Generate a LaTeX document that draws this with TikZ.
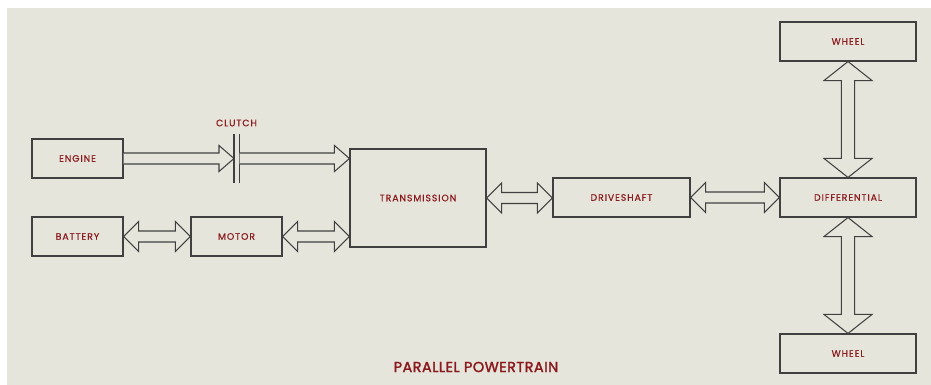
\documentclass[tikz,border=0pt]{standalone}
\usepackage{fontspec}
\setmainfont{Poppins}
\newfontfamily\lblfont[LetterSpace=10, FakeBold=0.6]{Poppins}
\newfontfamily\ttlfont[LetterSpace=3, FakeBold=2]{Poppins}
\usetikzlibrary{calc}
\definecolor{bg}{HTML}{E6E5DB}
\definecolor{txt}{HTML}{8B1A1E}
\definecolor{ln}{HTML}{404040}
\tikzset{
  box/.style={draw=ln, line width=1.1pt, minimum width=91pt, minimum height=39pt, inner sep=0pt,
    font=\lblfont\fontsize{9.3}{11}\selectfont, text=txt},
  fat/.style={draw=ln, line width=1.05pt, line join=miter, fill=bg},
  plate/.style={draw=ln, line width=1.1pt},
}
\newcommand\dblH[2]{%
  \draw[fat] let \p1=(#1.east), \p2=(#2.west) in
    (\x1,\y1) -- (\x1+15pt,\y1+15pt) -- (\x1+15pt,\y1+5.5pt) -- (\x2-15pt,\y1+5.5pt) -- (\x2-15pt,\y1+15pt)
    -- (\x2,\y1) -- (\x2-15pt,\y1-15pt) -- (\x2-15pt,\y1-5.5pt) -- (\x1+15pt,\y1-5.5pt) -- (\x1+15pt,\y1-15pt) -- cycle;}
\newcommand\dblV[2]{%
  \draw[fat] let \p1=(#1.south), \p2=(#2.north) in
    (\x1,\y1) -- (\x1+24pt,\y1-19pt) -- (\x1+6.7pt,\y1-19pt) -- (\x1+6.7pt,\y2+19pt) -- (\x1+24pt,\y2+19pt)
    -- (\x1,\y2) -- (\x1-24pt,\y2+19pt) -- (\x1-6.7pt,\y2+19pt) -- (\x1-6.7pt,\y1-19pt) -- (\x1-24pt,\y1-19pt) -- cycle;}
\newcommand\sglH[2]{%
  \draw[fat] let \p1=(#1), \p2=(#2) in
    (\x1,\y1+5.5pt) -- (\x2-15pt,\y1+5.5pt) -- (\x2-15pt,\y1+13pt) -- (\x2,\y1) -- (\x2-15pt,\y1-13pt)
    -- (\x2-15pt,\y1-5.5pt) -- (\x1,\y1-5.5pt);}
\begin{document}
\begin{tikzpicture}[x=1pt,y=-1pt]
\useasboundingbox (0,0) rectangle (931,385);
\fill[white] (0,0) rectangle (931,385);
\fill[bg] (7,8) rectangle (931,385);
% boxes
\node[box] (engine) at (77.5,158.5) {ENGINE};
\node[box] (battery) at (77.5,236.5) {BATTERY};
\node[box] (motor) at (236.5,236.5) {MOTOR};
\node[box, minimum width=136pt, minimum height=98pt] (trans) at (418,198) {TRANSMISSION};
\node[box, minimum width=137pt] (drive) at (621.5,197.5) {DRIVESHAFT};
\node[box, minimum width=136pt] (diff) at (848,197.5) {DIFFERENTIAL};
\node[box, minimum width=136pt] (wheelt) at (848,41.5) {WHEEL};
\node[box, minimum width=136pt] (wheelb) at (848,353.5) {WHEEL};
% clutch
\coordinate (c1) at (234,158.5);
\coordinate (c2) at (239.5,158.5);
\draw[plate] (234,134) -- (234,183);
\draw[plate] (239.5,134) -- (239.5,183);
\node[font=\lblfont\fontsize{9.3}{11}\selectfont, text=txt] (clutchlbl) at (236.5,123) {CLUTCH};
\sglH{engine.east}{c1}
\draw[fat] let \p1=(c2), \p2=(trans.west) in
    (\x1,\y1+5.5pt) -- (\x2-15pt,\y1+5.5pt) -- (\x2-15pt,\y1+13pt) -- (\x2,\y1) -- (\x2-15pt,\y1-13pt)
    -- (\x2-15pt,\y1-5.5pt) -- (\x1,\y1-5.5pt);
% double arrows
\dblH{battery}{motor}
\draw[fat] let \p1=(motor.east), \p2=(trans.west) in
    (\x1,\y1) -- (\x1+15pt,\y1+15pt) -- (\x1+15pt,\y1+5.5pt) -- (\x2-15pt,\y1+5.5pt) -- (\x2-15pt,\y1+15pt)
    -- (\x2,\y1) -- (\x2-15pt,\y1-15pt) -- (\x2-15pt,\y1-5.5pt) -- (\x1+15pt,\y1-5.5pt) -- (\x1+15pt,\y1-15pt) -- cycle;
\dblH{trans}{drive}
\dblH{drive}{diff}
\dblV{wheelt}{diff}
\dblV{diff}{wheelb}
% title
\node[font=\ttlfont\fontsize{14.5}{17}\selectfont, text=txt] (title) at (476,367) {PARALLEL POWERTRAIN};
\end{tikzpicture}
\end{document}
